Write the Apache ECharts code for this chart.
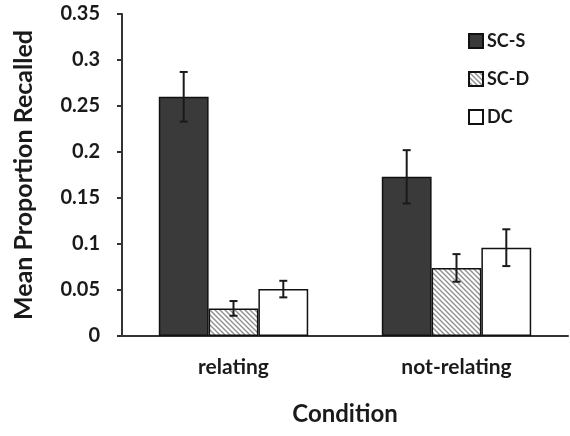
<!DOCTYPE html>
<html>
<head>
<meta charset="utf-8">
<script src="https://cdn.jsdelivr.net/npm/echarts@6/dist/echarts.min.js"></script>
<style>
  html, body { margin: 0; padding: 0; background: #fff; }
  #chart { width: 570px; height: 436px; }
</style>
</head>
<body>
<div id="chart"></div>
<script>
const categories = ['relating', 'not-relating'];
const seriesNames = ['SC-S', 'SC-D', 'DC'];
const scsValues = [0.260, 0.173];
const scdValues = [0.030, 0.074];
const dcValues = [0.051, 0.096];
const scsErrors = [0.027, 0.029];
const scdErrors = [0.008, 0.015];
const dcErrors = [0.009, 0.020];

const catGap = 0.33;

// diagonal hatch used for SC-D
function hatch() {
    const c = document.createElement('canvas');
    c.width = 5;
    c.height = 5;
    const ctx = c.getContext('2d');
    ctx.fillStyle = '#ffffff';
    ctx.fillRect(0, 0, 5, 5);
    ctx.strokeStyle = '#8f8f8f';
    ctx.lineWidth = 1.4;
    ctx.beginPath();
    ctx.moveTo(-1, -1); ctx.lineTo(6, 6);
    ctx.moveTo(-1, 4); ctx.lineTo(1, 6);
    ctx.moveTo(4, -1); ctx.lineTo(6, 1);
    ctx.stroke();
    return c;
}

const fills = ['#3a3a3a', { image: hatch(), repeat: 'repeat' }, '#ffffff'];
const values = [scsValues, scdValues, dcValues];
const errors = [scsErrors, scdErrors, dcErrors];

const chart = echarts.init(document.getElementById('chart'));
const font = 'Lato';

const bars = seriesNames.map((name, i) => ({
    name: name,
    type: 'bar',
    data: values[i],
    barGap: '0%',
    barCategoryGap: (catGap * 100) + '%',
    itemStyle: { color: fills[i], borderColor: '#111', borderWidth: 1.5 }
}));

const errorSeries = seriesNames.map((name, i) => ({
    type: 'custom',
    z: 5,
    silent: true,
    data: categories.map((c, k) => [k, values[i][k] - errors[i][k], values[i][k] + errors[i][k]]),
    renderItem: function (params, api) {
        const catW = api.size([1, 0])[0];
        const bw = catW * (1 - catGap) / 3;
        const lo = api.coord([api.value(0), api.value(1)]);
        const hi = api.coord([api.value(0), api.value(2)]);
        const x = lo[0] + (i - 1) * bw;
        const cap = 4;
        const style = { stroke: '#1a1a1a', lineWidth: 2 };
        return {
            type: 'group',
            children: [
                { type: 'line', shape: { x1: x, y1: lo[1], x2: x, y2: hi[1] }, style: style },
                { type: 'line', shape: { x1: x - cap, y1: lo[1], x2: x + cap, y2: lo[1] }, style: style },
                { type: 'line', shape: { x1: x - cap, y1: hi[1], x2: x + cap, y2: hi[1] }, style: style }
            ]
        };
    }
}));

chart.setOption({
    animation: false,
    grid: { left: 122, right: 2, top: 14, bottom: 100 },
    legend: {
        data: seriesNames,
        orient: 'vertical',
        left: 463,
        top: 27,
        icon: 'rect',
        itemWidth: 14,
        itemHeight: 14,
        itemGap: 20,
        textStyle: { fontFamily: font, fontWeight: 'bold', fontSize: 18, color: '#1a1a1a', padding: [0, 0, 0, -1] }
    },
    xAxis: {
        type: 'category',
        data: categories,
        name: 'Condition',
        nameLocation: 'middle',
        nameGap: 66,
        nameTextStyle: { fontFamily: font, fontWeight: 'bold', fontSize: 24, color: '#1a1a1a' },
        axisLine: { lineStyle: { color: '#333', width: 2 } },
        axisTick: { show: false },
        axisLabel: { fontFamily: font, fontWeight: 'bold', fontSize: 21, color: '#1a1a1a', margin: 21 }
    },
    yAxis: {
        type: 'value',
        min: 0,
        max: 0.35,
        interval: 0.05,
        name: 'Mean Proportion Recalled',
        nameLocation: 'middle',
        nameGap: 86,
        nameTextStyle: { fontFamily: font, fontWeight: 'bold', fontSize: 25, color: '#1a1a1a' },
        axisLine: { show: true, lineStyle: { color: '#333', width: 2 } },
        axisTick: { show: true, length: 5, lineStyle: { color: '#333', width: 2 } },
        splitLine: { show: false },
        axisLabel: {
            fontFamily: font, fontWeight: 'bold', fontSize: 20, color: '#1a1a1a', margin: 22,
            formatter: v => String(parseFloat(v.toFixed(2)))
        }
    },
    series: bars.concat(errorSeries)
});
</script>
</body>
</html>
